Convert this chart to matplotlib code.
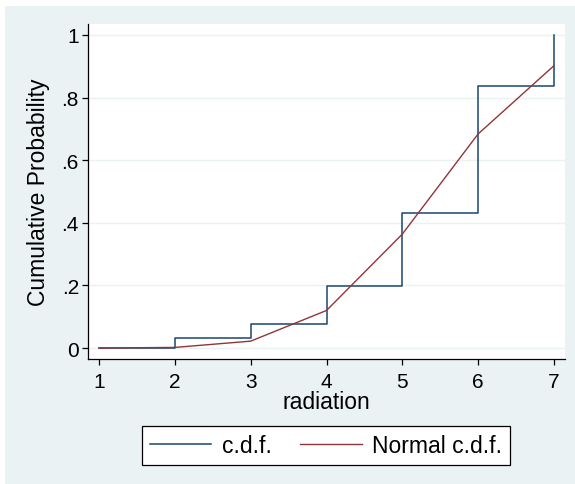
import matplotlib.pyplot as plt
import matplotlib.patches as mpatches
from matplotlib.lines import Line2D

plt.rcParams['font.family'] = ['Liberation Sans', 'DejaVu Sans']

# data
radiation = [1, 2, 3, 4, 5, 6, 7]
cdf = [0.0, 0.032, 0.077, 0.198, 0.43, 0.837, 1.0]
normal_cdf = [0.0, 0.002, 0.022, 0.12, 0.364, 0.684, 0.902]
yticks = [0, 0.2, 0.4, 0.6, 0.8, 1]
ytick_labels = ['0', '.2', '.4', '.6', '.8', '1']

blue = '#1a476f'
red = '#90353b'
bg = '#eaf2f3'

fig = plt.figure(figsize=(5.75, 4.85), dpi=100)
fig.patch.set_facecolor('white')
# Stata graph region
region = mpatches.Rectangle((5 / 575, 0), 1, 1 - 7 / 485,
                            transform=fig.transFigure,
                            facecolor=bg, edgecolor='none', zorder=-10)
fig.add_artist(region)

ax = fig.add_axes([88 / 575, 1 - 360 / 485, 477 / 575, 335 / 485])
ax.set_zorder(1)
ax.set_facecolor('white')

for y in yticks:
    ax.axhline(y, color=bg, lw=1, zorder=1)

# empirical cdf as step line, ending with vertical jump at the last value
sx = [radiation[0]]
sy = [cdf[0]]
for i in range(1, len(radiation)):
    sx += [radiation[i], radiation[i]]
    sy += [cdf[i - 1], cdf[i]]
ax.plot(sx, sy, color=blue, lw=1.1, zorder=3)
ax.plot(radiation, normal_cdf, color=red, lw=1.0, zorder=4)

ax.set_xlim(0.855, 7.145)
ax.set_ylim(-0.035, 1.035)
ax.set_xticks(radiation)
ax.set_yticks(yticks)
ax.set_yticklabels(ytick_labels)

for s in ['top', 'right']:
    ax.spines[s].set_visible(False)
for s in ['left', 'bottom']:
    ax.spines[s].set_color('black')
    ax.spines[s].set_linewidth(0.9)

ax.tick_params(axis='both', direction='out', length=4.5, width=0.9,
               labelsize=15, color='black')
ax.tick_params(axis='x', pad=5)
ax.tick_params(axis='y', pad=2)

ax.set_xlabel('radiation', fontsize=16.5, labelpad=-1)
ax.set_ylabel('Cumulative Probability', fontsize=16.5, labelpad=8)

handles = [Line2D([], [], color=blue, lw=1.1),
           Line2D([], [], color=red, lw=1.0)]
leg = fig.legend(handles, ['c.d.f.', 'Normal c.d.f.'], loc='center',
                 bbox_to_anchor=(326 / 575, 1 - 446.5 / 485), ncol=2,
                 fontsize=16.5, frameon=True, fancybox=False, framealpha=1,
                 handlelength=2.7, handletextpad=0.44, columnspacing=1.27,
                 borderpad=0.35)
leg.get_frame().set_edgecolor('black')
leg.get_frame().set_linewidth(0.9)
leg.get_frame().set_facecolor('white')

fig.savefig('out.png', dpi=100, facecolor=fig.get_facecolor())
